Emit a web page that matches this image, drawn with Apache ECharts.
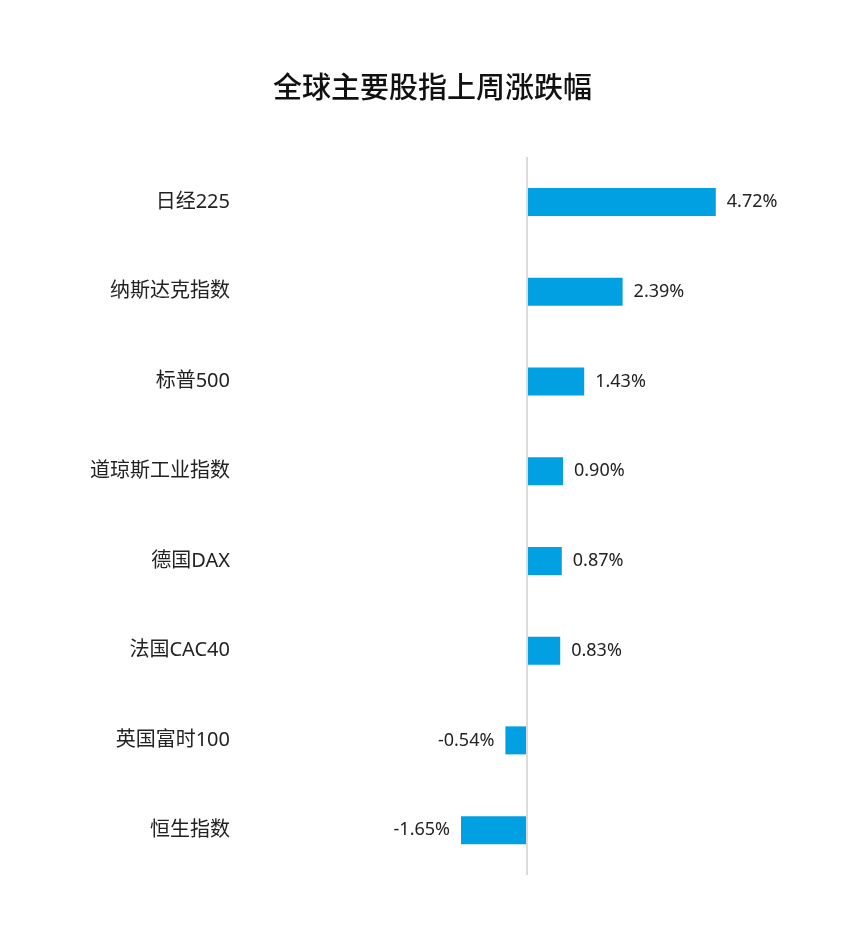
<!DOCTYPE html>
<html>
<head>
<meta charset="utf-8">
<script src="https://cdn.jsdelivr.net/npm/echarts@6/dist/echarts.min.js"></script>
<style>
  html, body { margin: 0; padding: 0; background: #fff; }
  #chart { width: 865px; height: 941px; }
</style>
</head>
<body>
<div id="chart"></div>
<script>
// 指数名称（从上到下）
var categories = ['日经225', '纳斯达克指数', '标普500', '道琼斯工业指数', '德国DAX', '法国CAC40', '英国富时100', '恒生指数'];
// 上周涨跌幅 %
var changes = [4.72, 2.39, 1.43, 0.90, 0.87, 0.83, -0.54, -1.65];

var font = '"Noto Sans", "Noto Sans CJK SC", sans-serif';

var chart = echarts.init(document.getElementById('chart'));
chart.setOption({
  backgroundColor: '#fff',
  title: {
    text: '全球主要股指上周涨跌幅',
    left: 'center',
    top: 70,
    textStyle: { fontFamily: font, fontSize: 29, fontWeight: 500, color: '#111' }
  },
  grid: { left: 247, right: 58, top: 157, bottom: 66 },
  xAxis: {
    type: 'value',
    min: -7,
    max: 7,
    show: false,
    splitLine: { show: false }
  },
  yAxis: {
    type: 'category',
    inverse: true,
    data: categories,
    axisLine: { show: false },
    axisTick: { show: false },
    axisLabel: { margin: 17, fontFamily: font, fontSize: 20, color: '#222' }
  },
  series: [{
    type: 'bar',
    barWidth: 28,
    itemStyle: { color: '#00a0e2' },
    // 负值标签放在左侧
    data: changes.map(function (v) {
      return v < 0 ? { value: v, label: { position: 'left' } } : v;
    }),
    label: {
      show: true,
      position: 'right',
      distance: 11,
      fontFamily: font,
      fontSize: 18,
      color: '#222',
      formatter: function (p) { return p.value.toFixed(2) + '%'; }
    },
    markLine: {
      silent: true,
      symbol: 'none',
      label: { show: false },
      lineStyle: { color: '#dcdcdc', width: 2, type: 'solid' },
      data: [{ xAxis: 0 }]
    }
  }]
});
</script>
</body>
</html>
